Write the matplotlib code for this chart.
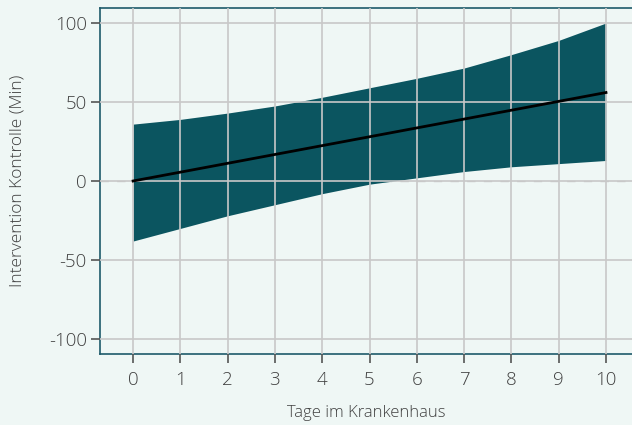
import numpy as np
import matplotlib.pyplot as plt

days = [0, 1, 2, 3, 4, 5, 6, 7, 8, 9, 10]
effect = [0, 5.6, 11.2, 16.8, 22.4, 28, 33.6, 39.2, 44.8, 50.4, 56]
upper = [36, 39, 43, 47.5, 53, 59, 65, 71.5, 80, 89, 100]
lower = [-38, -30, -22, -15, -8, -2, 2, 6, 9, 11, 13]
yticks = [-100, -50, 0, 50, 100]
ylabels = ['-100', '-50', '0', '50', '100']

bg = '#eff7f5'
band = '#0b5560'
spine = '#1e5a6a'
grid = '#c8c8c8'
txt = '#404040'

plt.rcParams['font.family'] = ['Open Sans', 'DejaVu Sans']

fig = plt.figure(figsize=(6.32, 4.25), dpi=100, facecolor=bg)
ax = fig.add_axes([100/632, 71/425, 532/632, 346/425], facecolor=bg)

ax.fill_between(days, lower, upper, color=band, lw=0, zorder=2)
ax.plot(days, effect, color='black', lw=2, zorder=3)
ax.axhline(0, color=grid, lw=1, ls=(0, (6, 6)), zorder=1)

ax.set_xlim(-0.7, 10.55)
ax.set_ylim(-109.5, 109.5)
ax.set_xticks(days)
ax.set_yticks(yticks, ylabels)
ax.grid(True, color=grid, lw=1.2, zorder=0)
ax.set_axisbelow(False)
for g in ax.get_xgridlines() + ax.get_ygridlines():
    g.set_zorder(2.5)

for s in ['left', 'bottom', 'top']:
    ax.spines[s].set_color(spine)
    ax.spines[s].set_linewidth(1.2)
ax.spines['right'].set_visible(False)

ax.tick_params(axis='both', length=6.5, width=1.2, color='#555555',
               labelcolor=txt, labelsize=13.5)
ax.tick_params(axis='x', pad=6)
ax.tick_params(axis='y', pad=3)
for lab in ax.get_xticklabels() + ax.get_yticklabels():
    lab.set_fontweight('light')

ax.set_xlabel('Tage im Krankenhaus', fontsize=12, color=txt, labelpad=11,
              fontweight='light')
ax.set_ylabel('Intervention Kontrolle (Min)', fontsize=12.5, color=txt,
              fontweight='light')
ax.yaxis.set_label_coords(-0.14, 0.5)

fig.savefig('out.png', dpi=100, facecolor=bg)
